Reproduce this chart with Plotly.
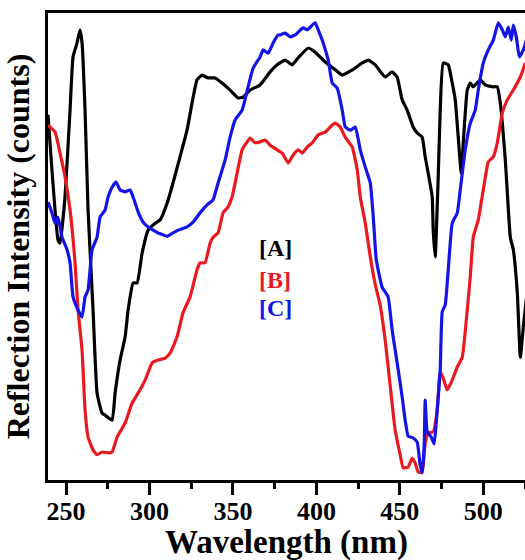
import plotly.graph_objects as go

# Reflection spectra of three samples, wavelength in nm, intensity in arbitrary counts
wl_a = [239.2, 245.2, 246.4, 249.4, 252.4, 254.2, 256.6, 258.4, 259.6, 261.4, 263.2, 266.2,
        268.6, 271.6, 273.4, 277.6, 279.4, 282.4, 285.4, 287.2, 290.2, 292.6, 295.6, 299.2,
        303.4, 306.4, 310.6, 314.1, 318.3, 322.5, 325.5, 328.5, 331.5, 335.1, 339.3, 343.5,
        348.3, 353.1, 356.1, 360.3, 366.3, 372.3, 376.5, 381.3, 385.5, 389.1, 395.1, 399.3,
        405.3, 410.1, 415.5, 421.5, 427.5, 431.1, 435.3, 441.2, 445.4, 448.4, 451.4, 454.4,
        458.0, 460.4, 463.4, 465.2, 467.0, 469.4, 470.0, 471.2, 473.0, 474.2, 476.0, 479.0,
        481.4, 483.2, 485.0, 486.8, 488.0, 490.4, 492.2, 494.0, 498.2, 501.2, 506.0, 508.4,
        510.2, 513.2, 516.2, 518.0, 520.4, 522.2, 524.0, 526.4]
int_a = [78.2, 51.4, 50.7, 60.6, 79.2, 90.6, 93.6, 96.4, 93.6, 79.2, 57.8, 36.4,
         18.6, 14.3, 13.9, 12.8, 18.6, 25.7, 30.6, 36.4, 42.2, 42.2, 48.6, 53.5,
         55.0, 55.7, 59.3, 63.6, 69.2, 74.9, 80.7, 85.7, 86.7, 86.1, 86.1, 85.0,
         83.5, 81.8, 82.0, 83.5, 84.6, 87.4, 88.9, 89.9, 88.9, 90.4, 92.5, 91.6,
         89.5, 88.2, 86.7, 87.8, 89.3, 89.9, 88.9, 86.3, 87.4, 86.3, 81.4, 79.2,
         75.6, 74.3, 73.4, 69.2, 65.7, 60.6, 53.5, 47.8, 64.9, 79.2, 89.3, 88.9,
         85.0, 81.4, 73.4, 65.7, 72.2, 83.5, 85.0, 84.2, 85.7, 84.6, 84.2, 84.2,
         80.7, 68.5, 52.0, 49.3, 40.0, 26.3, 32.8, 40.7]

wl_b = [239.2, 243.4, 246.4, 249.4, 252.4, 255.4, 257.2, 259.6, 261.4, 263.2, 266.2, 268.6,
        271.6, 275.2, 277.6, 280.6, 285.4, 289.6, 293.2, 297.4, 301.6, 305.2, 309.4, 312.4,
        316.5, 320.1, 324.3, 328.5, 330.3, 333.3, 336.3, 338.1, 341.1, 344.1, 347.1, 349.5,
        352.5, 355.5, 358.5, 360.3, 363.3, 366.3, 369.3, 372.3, 376.5, 379.5, 383.1, 386.1,
        389.1, 391.5, 394.5, 397.5, 401.1, 405.3, 408.3, 411.3, 414.3, 417.3, 421.5, 424.5,
        426.3, 429.3, 432.3, 435.3, 438.2, 441.2, 444.2, 447.2, 450.2, 452.0, 455.0, 457.4,
        459.2, 461.0, 463.4, 465.2, 467.0, 470.0, 472.4, 474.2, 476.0, 478.4, 481.4, 484.4,
        487.4, 490.4, 492.2, 494.0, 497.0, 500.0, 503.0, 506.0, 508.4, 511.4, 514.4, 518.0,
        522.2, 525.2]
int_b = [76.0, 74.5, 70.0, 64.9, 57.8, 46.5, 36.4, 27.8, 15.0, 9.2, 6.4, 5.4,
         6.0, 5.8, 6.0, 9.2, 12.2, 16.5, 18.6, 21.4, 25.1, 25.7, 26.1, 27.2,
         30.6, 35.8, 39.2, 45.0, 46.5, 46.5, 50.7, 52.0, 52.9, 57.2, 58.5, 60.6,
         65.7, 70.7, 72.4, 73.2, 72.2, 72.4, 72.8, 71.7, 70.7, 70.0, 67.9, 69.6,
         70.7, 70.0, 71.3, 72.2, 73.9, 74.5, 75.6, 76.4, 75.6, 73.4, 71.3, 66.4,
         60.6, 55.0, 47.8, 41.8, 37.5, 30.0, 20.3, 10.7, 5.4, 2.6, 2.8, 4.7,
         3.6, 1.7, 1.7, 7.9, 10.1, 10.3, 15.0, 23.1, 21.8, 19.3, 21.4, 24.2,
         26.3, 36.4, 43.5, 52.0, 55.7, 62.1, 68.1, 69.2, 72.2, 78.6, 81.4, 83.5,
         86.3, 89.3]

wl_c = [239.2, 241.6, 243.4, 245.2, 247.6, 250.6, 252.4, 254.2, 257.2, 259.6, 261.4, 263.2,
        265.6, 268.6, 270.4, 273.4, 275.2, 277.6, 280.0, 282.4, 285.4, 288.4, 290.2, 293.2,
        296.2, 299.2, 302.2, 305.2, 308.2, 310.6, 314.1, 317.1, 322.5, 326.1, 330.3, 334.5,
        338.1, 341.1, 345.3, 348.3, 351.3, 355.5, 359.1, 362.1, 366.3, 368.1, 371.1, 374.1,
        377.1, 378.3, 381.3, 384.3, 387.3, 389.1, 392.1, 394.5, 397.5, 399.3, 401.1, 404.1,
        407.1, 409.5, 412.5, 415.5, 417.3, 420.3, 423.3, 426.3, 429.3, 432.3, 434.1, 435.9,
        439.4, 443.0, 445.4, 448.4, 451.4, 453.2, 455.0, 458.0, 460.4, 462.2, 463.4, 464.6,
        465.2, 466.4, 468.8, 470.6, 472.4, 474.2, 475.4, 477.2, 479.0, 481.4, 484.4, 486.2,
        489.2, 492.2, 495.2, 497.0, 500.0, 503.0, 506.0, 509.0, 511.4, 513.2, 515.0, 516.8,
        518.0, 519.8, 521.6, 524.0, 525.8]
int_c = [59.5, 57.2, 55.0, 56.3, 52.0, 49.3, 46.5, 39.2, 36.4, 34.9, 39.2, 40.7,
         49.3, 52.0, 56.3, 57.8, 60.6, 62.7, 63.8, 62.1, 61.7, 62.1, 60.6, 57.4,
         55.2, 54.2, 53.5, 52.9, 52.5, 52.2, 52.9, 53.5, 54.2, 55.2, 57.2, 58.9,
         60.0, 63.6, 68.5, 73.4, 77.1, 79.2, 84.2, 88.2, 90.6, 92.1, 91.4, 93.6,
         95.3, 95.3, 95.7, 94.9, 95.3, 95.9, 96.8, 96.4, 97.4, 97.9, 96.4, 93.6,
         89.9, 85.0, 83.9, 79.2, 75.6, 74.9, 75.6, 70.7, 67.0, 63.6, 56.3, 47.1,
         41.3, 39.2, 32.1, 25.1, 17.8, 12.8, 9.4, 9.0, 8.1, 3.2, 1.5, 7.5,
         17.1, 10.3, 9.2, 7.7, 15.0, 23.6, 36.0, 37.5, 45.0, 55.0, 57.2, 62.1,
         70.7, 76.4, 79.2, 83.5, 89.3, 92.1, 94.2, 97.9, 96.4, 94.9, 97.0, 94.2,
         97.4, 94.9, 90.6, 92.1, 94.2]

series = [
    ("[A]", wl_a, int_a, "#000000"),
    ("[B]", wl_b, int_b, "#e8191f"),
    ("[C]", wl_c, int_c, "#1414e6"),
]
x_ticks = [250, 300, 350, 400, 450, 500]

serif = "Liberation Serif, Times New Roman, serif"

fig = go.Figure()
for name, wl, inten, color in series:
    fig.add_trace(go.Scatter(
        x=wl, y=inten, name=name, mode="lines",
        line=dict(color=color, width=3.2, shape="spline", smoothing=0.4),
        showlegend=False,
    ))

# sample labels stacked in the middle of the plot
label_y = [49.7, 42.9, 36.9]
for (name, _, _, color), ly in zip(series, label_y):
    fig.add_annotation(
        x=375.5, y=ly, xref="x", yref="y", text=name, showarrow=False,
        font=dict(family=serif, size=24, color=color, weight="bold"),
    )

# x-axis title set below the tick labels
fig.add_annotation(
    x=0.5, y=-0.133, xref="paper", yref="paper", xanchor="center", yanchor="middle",
    text="Wavelength (nm)", showarrow=False,
    font=dict(family=serif, size=33, color="black", weight="bold"),
)

fig.update_layout(
    width=525, height=560,
    margin=dict(l=48, r=0, t=13, b=80),
    paper_bgcolor="white", plot_bgcolor="white",
    showlegend=False,
)
fig.update_xaxes(
    range=[239.2, 525.0],
    tickmode="array", tickvals=x_ticks, ticktext=[str(v) for v in x_ticks],
    ticks="outside", ticklen=12, tickwidth=2.5, tickcolor="black",
    ticklabelstandoff=-6,
    minor=dict(tickmode="array", tickvals=[v + 25 for v in x_ticks],
               ticks="outside", ticklen=6, tickwidth=2.5, tickcolor="black"),
    showline=True, linewidth=3, linecolor="black", mirror=True,
    showgrid=False, zeroline=False,
    tickfont=dict(family=serif, size=26, color="black", weight="bold"),
    automargin=False,
)
fig.update_yaxes(
    range=[0, 100],
    showticklabels=False, ticks="",
    showline=True, linewidth=3, linecolor="black", mirror=False,
    showgrid=False, zeroline=False,
    title=dict(text="Reflection Intensity (counts)", standoff=6,
               font=dict(family=serif, size=32, color="black", weight="bold")),
    automargin=False,
)

fig.write_html("out.html")
